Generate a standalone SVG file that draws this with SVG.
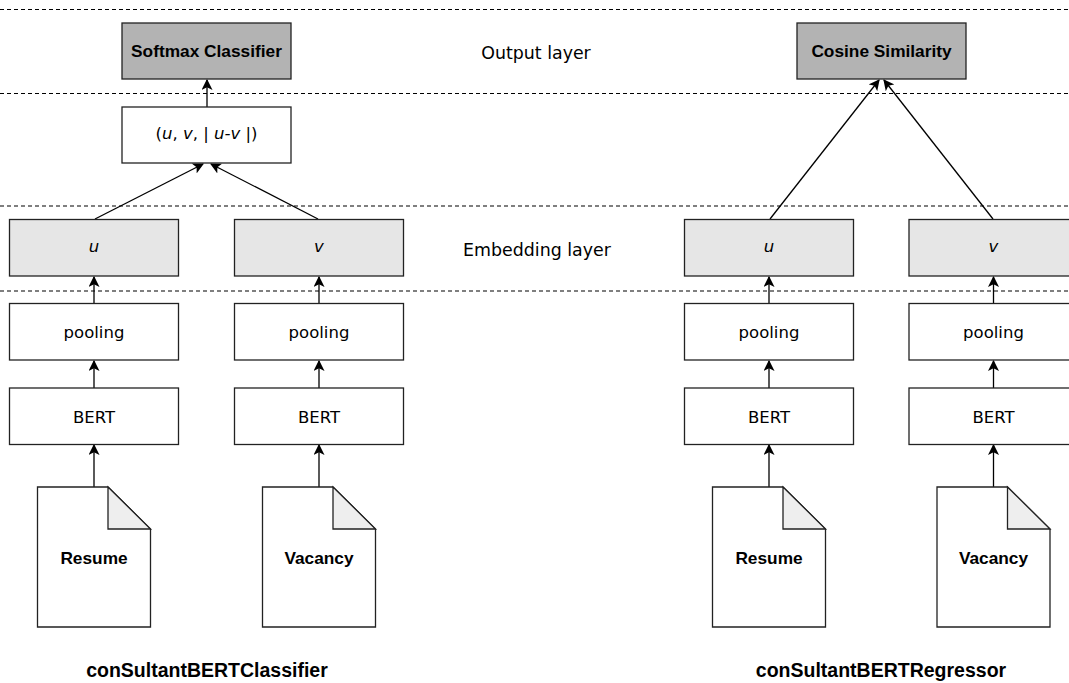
<svg xmlns="http://www.w3.org/2000/svg" width="1069" height="683" viewBox="0 0 1069 683">
<defs>
<marker id="arr" viewBox="0 0 10 10" refX="9" refY="5" markerWidth="11" markerHeight="11" markerUnits="userSpaceOnUse" orient="auto">
<path d="M0,0 L10,5 L0,10 L2.5,5 Z" fill="#000"/>
</marker>
<style>
.box{stroke:#222;stroke-width:1.3;fill:#fff}
.out{fill:#b3b3b3}
.emb{fill:#e6e6e6}
.fold{fill:#eeeeee;stroke:#222;stroke-width:1.3}
.t{font-family:"DejaVu Sans",sans-serif;font-size:16.5px;fill:#000;text-anchor:middle}
.b{font-family:"Liberation Sans",Arial,sans-serif;font-weight:bold;font-size:17.3px;fill:#000;text-anchor:middle}
.lbl{font-family:"DejaVu Sans",sans-serif;font-size:17.4px;fill:#000;text-anchor:middle}
.cap{font-family:"Liberation Sans",Arial,sans-serif;font-weight:bold;font-size:19.5px;fill:#000;text-anchor:middle}
.dash{stroke:#000;stroke-width:1.2;stroke-dasharray:4 3;fill:none}
.c{stroke:#000;stroke-width:1.3;fill:none;marker-end:url(#arr)}
</style>
</defs>
<rect width="1069" height="683" fill="#fff"/>
<g id="layers">
<line class="dash" x1="0" y1="9.5" x2="1069" y2="9.5"/>
<line class="dash" x1="0" y1="93.5" x2="1069" y2="93.5"/>
<line class="dash" x1="0" y1="206" x2="1069" y2="206"/>
<line class="dash" x1="0" y1="291" x2="1069" y2="291"/>
<text class="lbl" x="536" y="59">Output layer</text>
<text class="lbl" x="537" y="256">Embedding layer</text>
</g>
<g id="connectors">
<line class="c" x1="207" y1="107" x2="207" y2="80"/>
<line class="c" x1="95" y1="219" x2="203" y2="164"/>
<line class="c" x1="318" y1="219" x2="211" y2="164"/>
<line class="c" x1="94" y1="487" x2="94" y2="445"/>
<line class="c" x1="94" y1="388" x2="94" y2="361"/>
<line class="c" x1="94" y1="303" x2="94" y2="277"/>
<line class="c" x1="319" y1="487" x2="319" y2="445"/>
<line class="c" x1="319" y1="388" x2="319" y2="361"/>
<line class="c" x1="319" y1="303" x2="319" y2="277"/>
<line class="c" x1="770" y1="219" x2="879" y2="80"/>
<line class="c" x1="993" y1="219" x2="884" y2="80"/>
<line class="c" x1="769" y1="487" x2="769" y2="445"/>
<line class="c" x1="769" y1="388" x2="769" y2="361"/>
<line class="c" x1="769" y1="303" x2="769" y2="277"/>
<line class="c" x1="993.5" y1="487" x2="993.5" y2="445"/>
<line class="c" x1="993.5" y1="388" x2="993.5" y2="361"/>
<line class="c" x1="993.5" y1="303" x2="993.5" y2="277"/>
</g>
<g id="softmax">
<rect class="box out" x="122" y="23" width="169" height="56"/>
<text class="b" x="206.5" y="57">Softmax Classifier</text>
</g>
<g id="concat">
<rect class="box" x="122" y="107" width="169" height="56"/>
<text class="t" x="206.5" y="139">(<tspan font-style="italic">u</tspan>, <tspan font-style="italic">v</tspan>, | <tspan font-style="italic">u-v</tspan> |)</text>
</g>
<g id="u-left">
<rect class="box emb" x="9.5" y="219.5" width="169" height="56.5"/>
<text class="t" x="94" y="252" font-style="italic">u</text>
</g>
<g id="v-left">
<rect class="box emb" x="234.5" y="219.5" width="169" height="56.5"/>
<text class="t" x="319" y="252" font-style="italic">v</text>
</g>
<g id="pool-left-1">
<rect class="box" x="9.5" y="303.5" width="169" height="56.5"/>
<text class="t" x="94" y="338">pooling</text>
</g>
<g id="pool-left-2">
<rect class="box" x="234.5" y="303.5" width="169" height="56.5"/>
<text class="t" x="319" y="338">pooling</text>
</g>
<g id="bert-left-1">
<rect class="box" x="9.5" y="388" width="169" height="56.5"/>
<text class="t" x="94" y="423">BERT</text>
</g>
<g id="bert-left-2">
<rect class="box" x="234.5" y="388" width="169" height="56.5"/>
<text class="t" x="319" y="423">BERT</text>
</g>
<g id="resume-left">
<path class="box" d="M37.5,487 H108 L150.5,529 V627 H37.5 Z"/>
<path class="fold" d="M108,487 V529 H150.5 Z"/>
<text class="b" x="94" y="564">Resume</text>
</g>
<g id="vacancy-left">
<path class="box" d="M262.5,487 H333 L375.5,529 V627 H262.5 Z"/>
<path class="fold" d="M333,487 V529 H375.5 Z"/>
<text class="b" x="319" y="564">Vacancy</text>
</g>
<g id="cosine">
<rect class="box out" x="797" y="23" width="169" height="56"/>
<text class="b" x="881.5" y="57">Cosine Similarity</text>
</g>
<g id="u-right">
<rect class="box emb" x="684.5" y="219.5" width="169" height="56.5"/>
<text class="t" x="769" y="252" font-style="italic">u</text>
</g>
<g id="v-right">
<rect class="box emb" x="909" y="219.5" width="169" height="56.5"/>
<text class="t" x="993.5" y="252" font-style="italic">v</text>
</g>
<g id="pool-right-1">
<rect class="box" x="684.5" y="303.5" width="169" height="56.5"/>
<text class="t" x="769" y="338">pooling</text>
</g>
<g id="pool-right-2">
<rect class="box" x="909" y="303.5" width="169" height="56.5"/>
<text class="t" x="993.5" y="338">pooling</text>
</g>
<g id="bert-right-1">
<rect class="box" x="684.5" y="388" width="169" height="56.5"/>
<text class="t" x="769" y="423">BERT</text>
</g>
<g id="bert-right-2">
<rect class="box" x="909" y="388" width="169" height="56.5"/>
<text class="t" x="993.5" y="423">BERT</text>
</g>
<g id="resume-right">
<path class="box" d="M712.5,487 H783 L825.5,529 V627 H712.5 Z"/>
<path class="fold" d="M783,487 V529 H825.5 Z"/>
<text class="b" x="769" y="564">Resume</text>
</g>
<g id="vacancy-right">
<path class="box" d="M937,487 H1007.5 L1050,529 V627 H937 Z"/>
<path class="fold" d="M1007.5,487 V529 H1050 Z"/>
<text class="b" x="993.5" y="564">Vacancy</text>
</g>
<g id="captions">
<text class="cap" x="207" y="677">conSultantBERTClassifier</text>
<text class="cap" x="881" y="677">conSultantBERTRegressor</text>
</g>
</svg>
